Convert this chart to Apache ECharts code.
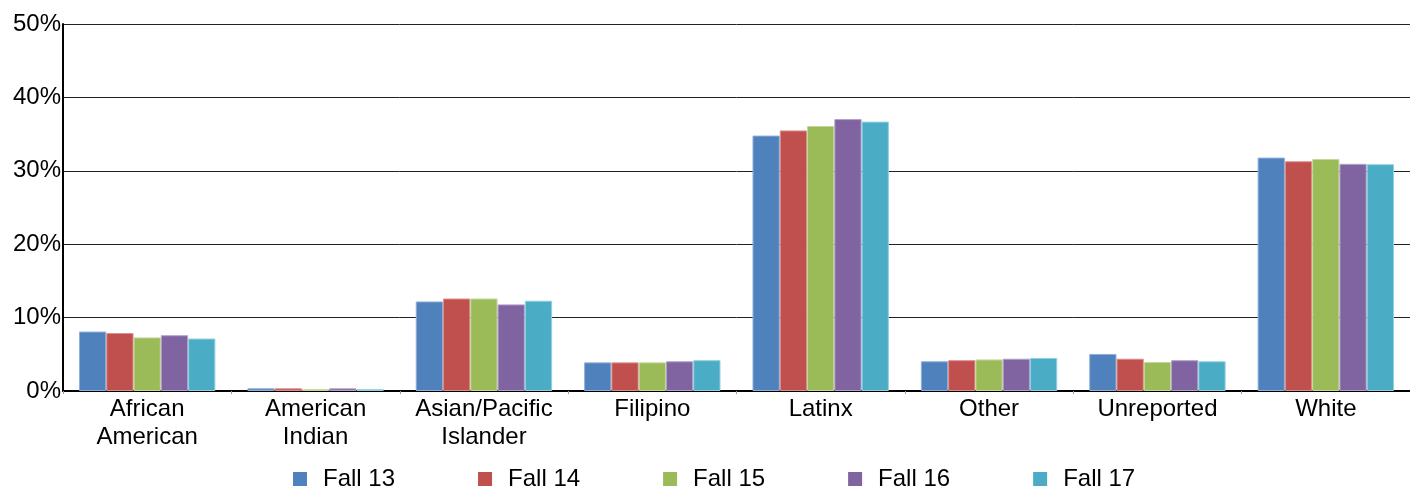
<!DOCTYPE html>
<html>
<head>
<meta charset="utf-8">
<style>
  html, body { margin: 0; padding: 0; background: #fff; }
  #chart { width: 1410px; height: 491px; }
</style>
<script src="https://cdn.jsdelivr.net/npm/echarts@6/dist/echarts.min.js"></script>
</head>
<body>
<div id="chart"></div>
<script>
// categories on the x axis
var categories = ['African\nAmerican', 'American\nIndian', 'Asian/Pacific\nIslander', 'Filipino', 'Latinx', 'Other', 'Unreported', 'White'];

// percent of students, one array per term
var fall13 = [8.1, 0.37, 12.2, 3.9, 34.8, 4.05, 5.05, 31.8];
var fall14 = [7.9, 0.37, 12.6, 3.9, 35.5, 4.2, 4.4, 31.3];
var fall15 = [7.3, 0.25, 12.6, 3.9, 36.1, 4.3, 3.95, 31.6];
var fall16 = [7.6, 0.37, 11.8, 4.05, 37.05, 4.4, 4.2, 30.95];
var fall17 = [7.15, 0.25, 12.3, 4.2, 36.7, 4.5, 4.05, 30.9];

var termNames = ['Fall 13', 'Fall 14', 'Fall 15', 'Fall 16', 'Fall 17'];
var termData = [fall13, fall14, fall15, fall16, fall17];
var colors = ['#4f81bd', '#c0504d', '#9bbb59', '#8064a2', '#4bacc6'];
var edges = ['#8fb0d8', '#dc8f8d', '#c4d89a', '#b3a2c8', '#92d0e0'];

var series = [];
for (var i = 0; i < termNames.length; i++) {
  series.push({
    name: termNames[i],
    type: 'bar',
    data: termData[i],
    barGap: '0%',
    barCategoryGap: '19%',
    itemStyle: { color: colors[i], borderColor: edges[i], borderWidth: 1 }
  });
}

var chart = echarts.init(document.getElementById('chart'));
chart.setOption({
  animation: false,
  color: colors,
  textStyle: { fontFamily: 'Liberation Sans, Arial, sans-serif' },
  grid: { left: 63, right: 0, top: 24, bottom: 100, containLabel: false },
  legend: {
    left: 293,
    top: 467,
    padding: 0,
    itemWidth: 14,
    itemHeight: 14,
    itemGap: 83,
    icon: 'rect',
    itemStyle: { borderWidth: 0 },
    textStyle: { fontSize: 24, color: '#000', width: 76, padding: [0, 0, 0, 11] },
    data: termNames
  },
  xAxis: {
    type: 'category',
    data: categories,
    axisLine: { lineStyle: { color: '#000', width: 2 } },
    axisTick: { show: true, length: 3, lineStyle: { color: '#999' } },
    axisLabel: { fontSize: 24, color: '#000', lineHeight: 28, margin: 4, interval: 0 }
  },
  yAxis: {
    type: 'value',
    min: 0,
    max: 50,
    interval: 10,
    axisLine: { show: true, lineStyle: { color: '#000', width: 2 } },
    axisTick: { show: false },
    axisLabel: { fontSize: 24, color: '#000', margin: 2, formatter: '{value}%' },
    splitLine: { lineStyle: { color: '#222', width: 1 } }
  },
  series: series
});
</script>
</body>
</html>
